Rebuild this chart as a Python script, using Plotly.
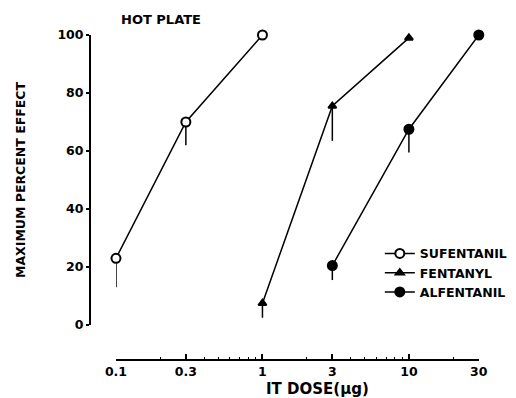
import plotly.graph_objects as go

# ---- data ----
suf_dose = [0.1, 0.3, 1]
suf_effect = [23, 70, 100]
suf_err = [10, 8, 0]

fen_dose = [1, 3, 10]
fen_effect = [7.5, 75.5, 99]
fen_err = [5, 12, 0]

alf_dose = [3, 10, 30]
alf_effect = [20.5, 67.5, 100]
alf_err = [5, 8, 0]

x_tickvals = [0.1, 0.3, 1, 3, 10, 30]
x_ticktext = ["0.1", "0.3", "1", "3", "10", "30"]
y_tickvals = [0, 20, 40, 60, 80, 100]

FONT = "DejaVu Sans"
BLACK = "#000000"

fig = go.Figure()

def add_series(name, x, y, err, symbol, fill, size):
    fig.add_trace(go.Scatter(
        x=x, y=y, name=name, mode="lines+markers",
        line=dict(color=BLACK, width=1.5),
        marker=dict(symbol=symbol, color=fill, size=size,
                    line=dict(color=BLACK, width=2)),
        error_y=dict(type="data", symmetric=False, array=[0] * len(err),
                     arrayminus=err, color=BLACK, thickness=1.5, width=0),
        cliponaxis=False,
    ))

add_series("SUFENTANIL", suf_dose, suf_effect, suf_err, "circle", "white", 9)
add_series("FENTANYL", fen_dose, fen_effect, fen_err, "triangle-up", BLACK, 7)
add_series("ALFENTANIL", alf_dose, alf_effect, alf_err, "circle", BLACK, 9)

# the page body adds an 8px offset; margins compensate for it.
# The figure is a little wider than the window so the legend has room
# without pushing the plot margins.
W, H = 530, 398
fig.update_layout(
    width=W, height=H,
    margin=dict(l=82, r=W - 82 - 389, t=27, b=46),
    paper_bgcolor="white", plot_bgcolor="white",
    font=dict(family=FONT, color=BLACK, size=12, weight="bold"),
    showlegend=True,
    legend=dict(x=0.745, y=0.373, xanchor="left", yanchor="top",
                font=dict(family=FONT, size=12.5, weight="bold"),
                bgcolor="rgba(0,0,0,0)", tracegroupgap=0, itemwidth=30),
    xaxis=dict(
        type="log", range=[-1, 1.4785], domain=[0.0668, 1],
        anchor="free", position=0,
        showline=True, linecolor=BLACK, linewidth=1.5,
        showgrid=False, zeroline=False,
        tickmode="array", tickvals=x_tickvals, ticktext=x_ticktext,
        ticks="inside", ticklen=5, tickwidth=1.5, tickcolor=BLACK,
        tickfont=dict(family=FONT, size=12.5, weight="bold"),
        minor=dict(ticks="inside", ticklen=2, tickwidth=1, tickcolor=BLACK,
                   tickmode="array",
                   tickvals=[0.2, 0.4, 0.5, 0.6, 0.7, 0.8, 0.9,
                             2, 4, 5, 6, 7, 8, 9, 20]),
        automargin=False,
    ),
    yaxis=dict(
        range=[0, 100], domain=[0.1077, 1],
        anchor="free", position=0,
        showline=True, linecolor=BLACK, linewidth=2,
        showgrid=False, zeroline=False,
        tickmode="array", tickvals=y_tickvals,
        ticks="outside", ticklen=3, tickwidth=1.5, tickcolor=BLACK,
        tickfont=dict(family=FONT, size=12.5, weight="bold"),
        title=dict(text="MAXIMUM PERCENT EFFECT",
                   font=dict(family=FONT, size=12.5, weight="bold"),
                   standoff=28),
        automargin=False,
    ),
    title=dict(text="HOT PLATE", x=0.1825, xref="paper", xanchor="center",
               y=1 - 11 / H, yref="container", yanchor="middle",
               font=dict(family=FONT, size=13, weight="bold")),
    annotations=[dict(text="IT DOSE(μg)", x=0.586, xref="paper",
                      y=-0.089, yref="paper", xanchor="center",
                      yanchor="middle", showarrow=False,
                      font=dict(family=FONT, size=15, weight="bold"))],
)

fig.write_html("out.html")
